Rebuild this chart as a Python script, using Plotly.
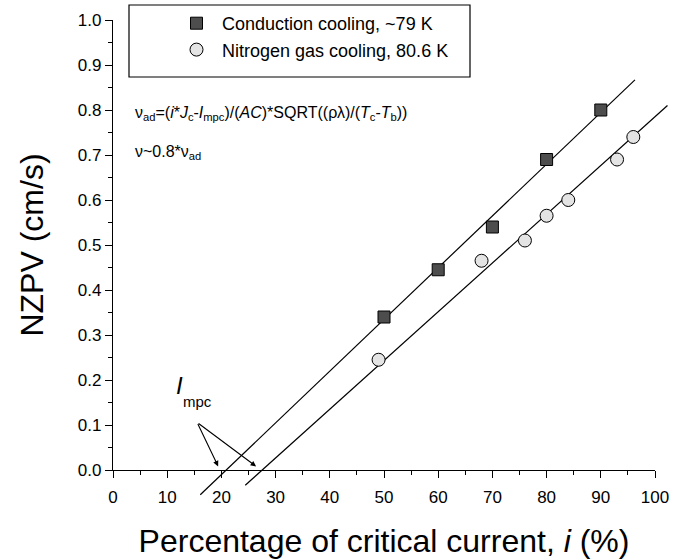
import plotly.graph_objects as go

# ---- data ----
cond_x = [50, 60, 70, 80, 90]
cond_y = [0.34, 0.445, 0.54, 0.69, 0.80]
nitro_x = [49, 68, 76, 80, 84, 93, 96]
nitro_y = [0.245, 0.465, 0.51, 0.565, 0.60, 0.69, 0.74]
cond_fit_x = [16.1, 96.3]
cond_fit_y = [-0.055, 0.867]
nitro_fit_x = [24.4, 102.3]
nitro_fit_y = [-0.034, 0.810]
mpc_x = [19.4, 26.4]
mpc_y = [0.008, 0.008]
x_ticks = list(range(0, 101, 10))
y_ticks = [round(0.1 * k, 1) for k in range(11)]
cond_name = "Conduction cooling, ~79 K"
nitro_name = "Nitrogen gas cooling, 80.6 K"

# ---- layout geometry (pixels) ----
W, H = 676, 560
ML, MR, MT, MB = 113, 0, 20, 50
PW = W - ML - MR
PH = H - MT - MB
AX_W, AX_H = 542, 450
FONT = "Arial, Liberation Sans, sans-serif"


def px(xp):
    return (xp - ML) / PW


def py(yp):
    return (H - MB - yp) / PH


fig = go.Figure()

fig.add_trace(go.Scatter(x=cond_fit_x, y=cond_fit_y, mode="lines",
                         line=dict(color="black", width=1.2),
                         xaxis="x2", yaxis="y2", showlegend=False, hoverinfo="skip"))
fig.add_trace(go.Scatter(x=nitro_fit_x, y=nitro_fit_y, mode="lines",
                         line=dict(color="black", width=1.2),
                         xaxis="x2", yaxis="y2", showlegend=False, hoverinfo="skip"))
fig.add_trace(go.Scatter(x=cond_x, y=cond_y, mode="markers", name=cond_name,
                         marker=dict(symbol="square", size=12, color="#4d4d4d",
                                     line=dict(color="black", width=1)),
                         xaxis="x2", yaxis="y2"))
fig.add_trace(go.Scatter(x=nitro_x, y=nitro_y, mode="markers", name=nitro_name,
                         marker=dict(symbol="circle", size=13, color="#e4e4e4",
                                     line=dict(color="black", width=1)),
                         xaxis="x2", yaxis="y2"))

axis_common = dict(showgrid=False, zeroline=False, showline=True, linecolor="black",
                   linewidth=1.2, ticks="outside", ticklen=7, tickwidth=1.2,
                   tickcolor="black", mirror=False, automargin=False,
                   tickfont=dict(family=FONT, size=17, color="black"))

fig.update_layout(
    width=W, height=H,
    margin=dict(l=ML, r=MR, t=MT, b=MB),
    paper_bgcolor="white", plot_bgcolor="rgba(0,0,0,0)",
    font=dict(family=FONT, color="black"),
    xaxis=dict(domain=[0, AX_W / PW], range=[0, 100], anchor="y",
               tickvals=x_ticks, ticktext=[str(v) for v in x_ticks],
               ticklabelstandoff=4,
               minor=dict(dtick=5, ticklen=4, ticks="outside", tickcolor="black"),
               title=dict(text="Percentage of critical current, <i>i</i> (%)",
                          font=dict(family=FONT, size=32), standoff=24),
               **axis_common),
    yaxis=dict(domain=[1 - AX_H / PH, 1], range=[0, 1], anchor="x",
               tickvals=y_ticks, ticktext=[f"{v:.1f}" for v in y_ticks],
               minor=dict(dtick=0.05, ticklen=4, ticks="outside", tickcolor="black"),
               title=dict(text="NZPV (cm/s)", font=dict(family=FONT, size=32), standoff=24),
               **axis_common),
    xaxis2=dict(domain=[0, 1], range=[0, 100 * PW / AX_W], anchor="y2", visible=False),
    yaxis2=dict(domain=[0, 1], range=[1 - PH / AX_H, 1], anchor="x2", visible=False),
    legend=dict(x=px(171), y=py(5), xanchor="left", yanchor="top",
                bgcolor="rgba(0,0,0,0)", borderwidth=0, itemwidth=41,
                font=dict(family=FONT, size=18, color="black")),
    showlegend=True,
)

# legend box
fig.add_shape(type="rect", xref="paper", yref="paper",
              x0=px(129), x1=px(470), y0=py(77), y1=py(5),
              line=dict(color="black", width=1.2), fillcolor="rgba(0,0,0,0)")

# formula texts
fig.add_annotation(xref="paper", yref="paper", x=px(133), y=py(113),
                   xanchor="left", yanchor="middle", showarrow=False,
                   text="ν<sub>ad</sub>=(<i>i</i>*<i>J</i><sub>c</sub>-<i>I</i><sub>mpc</sub>)/(<i>AC</i>)*SQRT((ρλ)/(<i>T</i><sub>c</sub>-<i>T</i><sub>b</sub>))",
                   font=dict(family=FONT, size=16, color="black"))
fig.add_annotation(xref="paper", yref="paper", x=px(133), y=py(152),
                   xanchor="left", yanchor="middle", showarrow=False,
                   text="ν~0.8*ν<sub>ad</sub>",
                   font=dict(family=FONT, size=16, color="black"))

# I_mpc label and arrows
fig.add_annotation(xref="paper", yref="paper", x=px(179), y=py(385),
                   xanchor="center", yanchor="middle", showarrow=False,
                   text="<i>I</i>", font=dict(family=FONT, size=24, color="black"))
fig.add_annotation(xref="paper", yref="paper", x=px(181), y=py(401),
                   xanchor="left", yanchor="middle", showarrow=False,
                   text="mpc", font=dict(family=FONT, size=15, color="black"))
for mx, my, axp in zip(mpc_x, mpc_y, [-21, -59]):
    fig.add_annotation(x=mx, y=my, xref="x", yref="y", text="", showarrow=True,
                       ax=axp, ay=-44, arrowhead=2, arrowsize=1, arrowwidth=1.1,
                       arrowcolor="black")

fig.write_html("out.html", config={"displayModeBar": False},
               post_script="document.body.style.margin='0';")
